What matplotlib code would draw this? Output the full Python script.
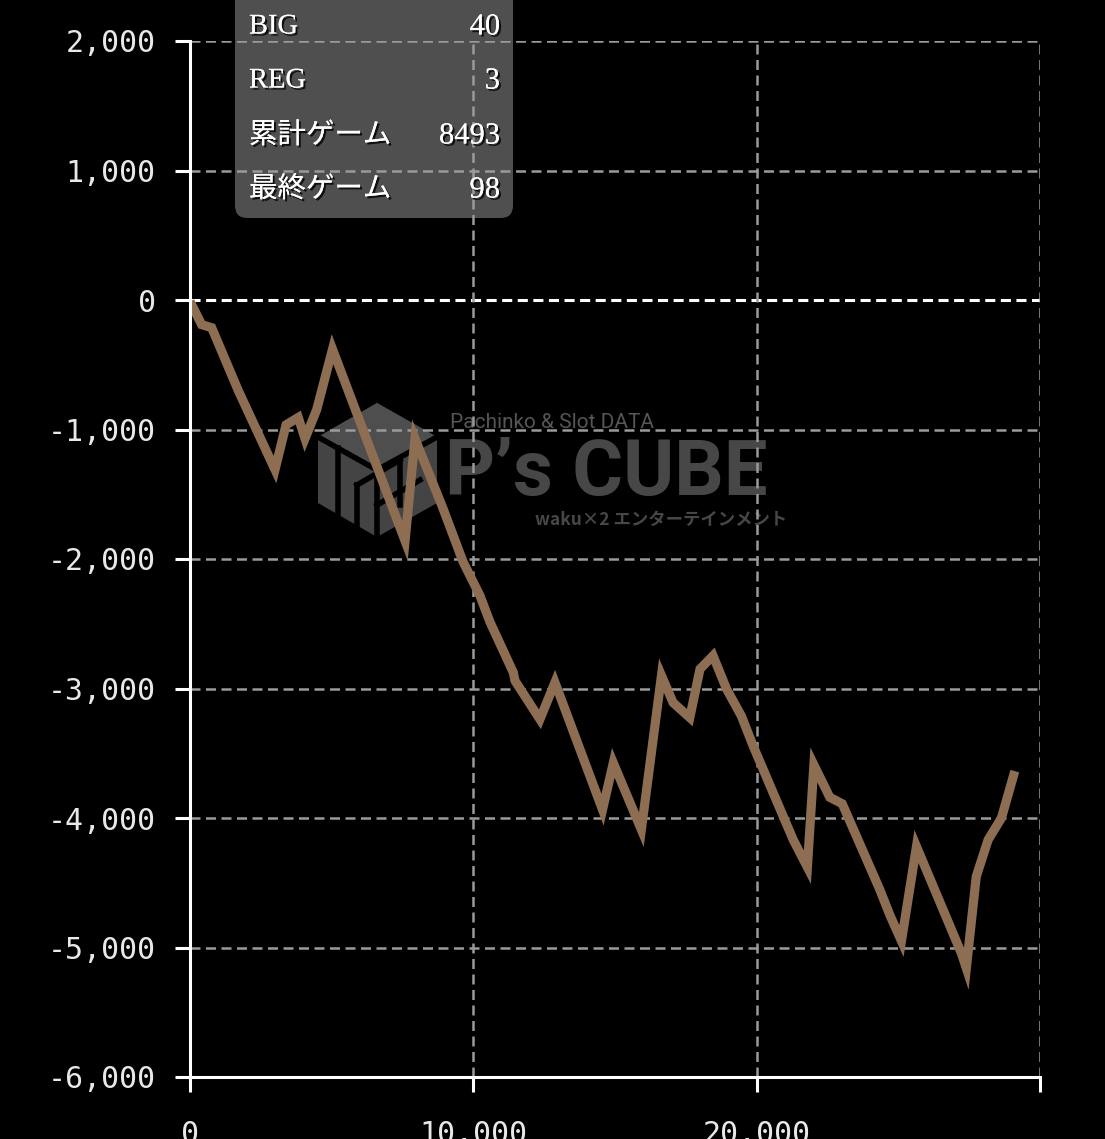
import matplotlib
matplotlib.use("Agg")
import matplotlib.pyplot as plt
from matplotlib.patches import FancyBboxPatch, Polygon
import matplotlib.patheffects as pe
from matplotlib.ticker import FuncFormatter

# ---- data ----
games = [0, 410, 765, 1705, 3000, 3390, 3820, 4060, 4470, 5030, 7590, 7940,
         8930, 9640, 10230, 10590, 11410, 11470, 12350, 12880, 14560, 14940,
         15930, 16640, 17050, 17640, 18000, 18460, 18940, 19460, 19880, 21290,
         21790, 22020, 22580, 23020, 24350, 24700, 25110, 25640, 27230, 27400,
         27750, 28170, 28640, 29110]
diff = [-10, -190, -214, -700, -1310, -964, -907, -1070, -848, -380, -1860, -1070,
        -1610, -2023, -2281, -2488, -2876, -2940, -3238, -2953, -3936, -3574,
        -4090, -2900, -3109, -3225, -2850, -2747, -3005, -3212, -3446, -4168,
        -4380, -3590, -3840, -3890, -4555, -4749, -4950, -4220, -5047, -5160,
        -4452, -4168, -4000, -3638]
yticks = [-6000, -5000, -4000, -3000, -2000, -1000, 0, 1000, 2000]
xticks = [0, 10000, 20000, 30000]
xticklabels = ["0", "10,000", "20,000", ""]
info_labels = ["BIG", "REG", "累計ゲーム", "最終ゲーム"]
info_values = ["40", "3", "8493", "98"]

W, H = 1105, 1139
fig = plt.figure(figsize=(W / 100, H / 100), dpi=100)
fig.patch.set_facecolor("black")

def fx(x):
    return x / W

def fy(y):
    return 1 - y / H

ax = fig.add_axes([fx(190), fy(1077), fx(1040) - fx(190), fy(41) - fy(1077)])
ax.set_facecolor("none")
ax.set_xlim(0, 30000)
ax.set_ylim(-6000, 2000)

# grid
for yv in yticks:
    if yv == 0:
        ax.axhline(yv, color="white", lw=2.2, dashes=(3.3, 1.8), zorder=1)
    elif yv != -6000:
        ax.axhline(yv, color="#9a9a9a", lw=1.8, dashes=(4, 2.2), zorder=1)
for xv in xticks[1:]:
    ax.axvline(xv, color="#9a9a9a", lw=1.8, dashes=(4, 2.2), zorder=1)

ax.plot(games, diff, color="#8e6e53", lw=6.6, solid_joinstyle="miter",
        solid_capstyle="butt", zorder=3)

for s in ["top", "right"]:
    ax.spines[s].set_visible(False)
for s in ["left", "bottom"]:
    ax.spines[s].set_color("white")
    ax.spines[s].set_linewidth(2.2)
    ax.spines[s].set_zorder(4)

ax.set_yticks(yticks)
ax.yaxis.set_major_formatter(FuncFormatter(lambda v, p: f"{int(v):,}"))
ax.set_xticks(xticks)
ax.set_xticklabels(xticklabels)
ax.tick_params(axis="both", colors="white", width=2.2, length=10.8,
               labelsize=21.5)
ax.tick_params(axis="y", pad=14)
ax.tick_params(axis="x", pad=20)
for lab in ax.get_yticklabels() + ax.get_xticklabels():
    lab.set_family("DejaVu Sans Mono")
    lab.set_color("#e8e8e8")

# watermark (decoration, figure coords)
hexv = [(377, 403), (437, 437), (437, 503), (377, 537), (318, 503), (318, 437)]
fig.patches.append(Polygon([(fx(a), fy(b)) for a, b in hexv], closed=True,
                           transform=fig.transFigure, facecolor="#444444",
                           edgecolor="none", zorder=-2))
topface = [(377, 403), (437, 437), (377, 470), (318, 437)]
fig.patches.append(Polygon([(fx(a), fy(b)) for a, b in topface], closed=True,
                           transform=fig.transFigure, facecolor="#4e4e4e",
                           edgecolor="none", zorder=-2))
for seg in [[(318, 437), (377, 470), (437, 437)], [(377, 470), (377, 537)],
            [(338, 448), (338, 515)], [(357, 485), (357, 525)],
            [(357, 485), (400, 460)], [(400, 460), (400, 505)],
            [(377, 505), (420, 480)]]:
    fig.lines.append(plt.Line2D([fx(a) for a, b in seg], [fy(b) for a, b in seg],
                                transform=fig.transFigure, color="black",
                                lw=4, zorder=-1.5))
fig.text(fx(450), fy(423), "Pachinko & Slot DATA", color="#555555",
         fontsize=15, family="Roboto", va="center", ha="left", zorder=-1)
fig.text(fx(445), fy(474), "P’s CUBE", color="#474747", fontsize=56,
         family="Roboto", fontweight="bold", va="center", ha="left", zorder=-1)
fig.text(fx(535), fy(520), "waku×2 エンターテインメント", color="#474747",
         fontsize=12.5, family=["Noto Sans CJK JP", "DejaVu Sans"], fontweight="bold",
         va="center", ha="left", zorder=-1)

# info box
box = FancyBboxPatch((fx(235), fy(218)), fx(513) - fx(235), fy(-20) - fy(218),
                     boxstyle="round,pad=0,rounding_size=0.011",
                     transform=fig.transFigure, facecolor="#4f4f4f",
                     edgecolor="none", zorder=-1)
fig.patches.append(box)
rows_y = [27, 81, 136, 190]
shadow = [pe.withSimplePatchShadow(offset=(1.5, -1.5), shadow_rgbFace="black",
                                   alpha=0.8), pe.Normal()]
for lab, val, yy in zip(info_labels, info_values, rows_y):
    fig.text(fx(249), fy(yy), lab, color="white", fontsize=20.5,
             family=["Liberation Serif", "Noto Sans CJK JP"], va="center",
             ha="left", path_effects=shadow)
    fig.text(fx(500), fy(yy), val, color="white", fontsize=22,
             family=["Liberation Serif", "Noto Sans CJK JP"], va="center",
             ha="right", path_effects=shadow)

fig.savefig("out.png", dpi=100, facecolor="black")
